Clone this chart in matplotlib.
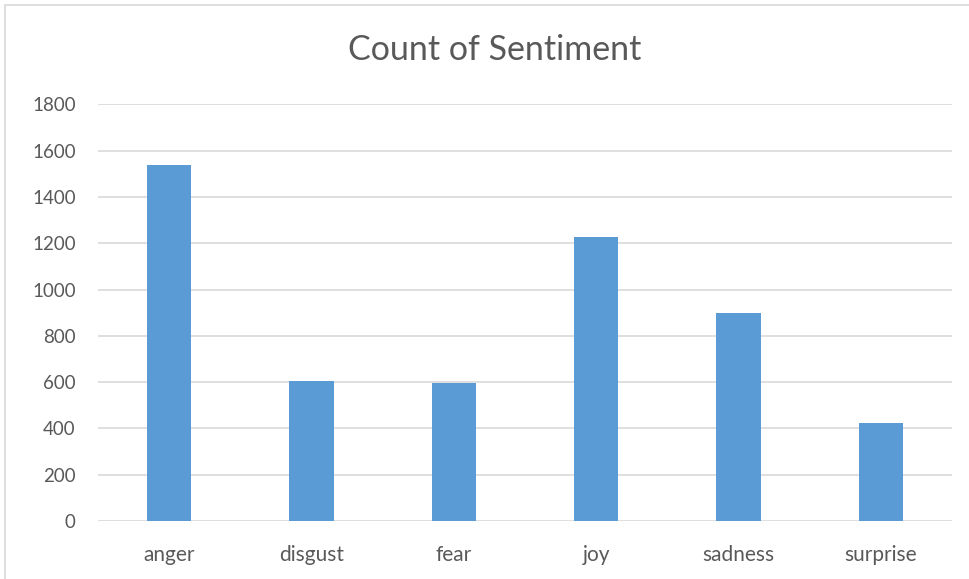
import matplotlib.pyplot as plt
from matplotlib.patches import Rectangle

# sentiment counts
sentiments = ['anger', 'disgust', 'fear', 'joy', 'sadness', 'surprise']
counts = [1536, 605, 596, 1225, 898, 422]
yticks = [0, 200, 400, 600, 800, 1000, 1200, 1400, 1600, 1800]

plt.rcParams['font.family'] = ['Lato', 'DejaVu Sans']

fig = plt.figure(figsize=(9.69, 5.79), dpi=100)
fig.patch.set_facecolor('white')

# thin frame around the chart area
fig.add_artist(Rectangle((5 / 969, -0.01), 1.1, (579 - 5) / 579 + 0.01,
                         transform=fig.transFigure, fill=False,
                         edgecolor='#D9D9D9', linewidth=1.2))

ax = fig.add_axes([98 / 969, 1 - 521 / 579, (952 - 98) / 969, (521 - 104.3) / 579])
x = range(len(sentiments))
ax.bar(x, counts, width=0.313, color='#5B9BD5', zorder=3)

ax.set_xlim(-0.5, len(sentiments) - 0.5)
ax.set_ylim(0, 1800)
ax.set_yticks(yticks)
ax.set_xticks(list(x))
ax.set_xticklabels(sentiments)
ax.yaxis.grid(True, color='#D9D9D9', linewidth=1.2, zorder=0)
ax.tick_params(axis='both', length=0, colors='#595959')
ax.tick_params(axis='x', pad=17, labelsize=15)
ax.tick_params(axis='y', pad=16, labelsize=13.5)
for side in ['top', 'right', 'left', 'bottom']:
    ax.spines[side].set_visible(False)

fig.text(495 / 969, 1 - 50 / 579, 'Count of Sentiment', ha='center', va='center',
         fontsize=24.5, color='#595959')

fig.savefig('out.png', dpi=100)
